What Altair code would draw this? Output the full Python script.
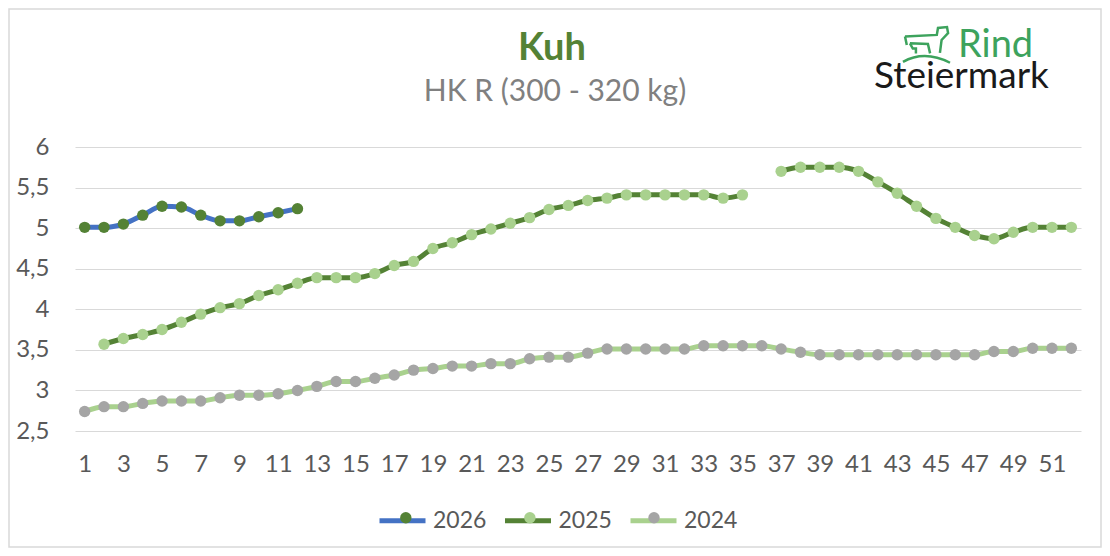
import altair as alt
import pandas as pd

FONT = "Lato"

weeks = list(range(1, 53))
years = ["2026", "2025", "2024"]
year_nums = [2026, 2025, 2024]

v2026 = [5.01, 5.01, 5.05, 5.16, 5.27, 5.26, 5.16, 5.09, 5.09, 5.14, 5.19, 5.24]
v2025 = [None, 3.57, 3.64, 3.69, 3.75, 3.84, 3.94, 4.02, 4.07, 4.17, 4.24, 4.32,
         4.39, 4.39, 4.39, 4.44, 4.54, 4.59, 4.75, 4.82, 4.92, 4.99, 5.06, 5.13,
         5.23, 5.28, 5.34, 5.37, 5.41, 5.41, 5.41, 5.41, 5.41, 5.37, 5.41, None,
         5.70, 5.75, 5.75, 5.75, 5.70, 5.57, 5.43, 5.27, 5.12, 5.01, 4.91, 4.87,
         4.95, 5.01, 5.01, 5.01]
v2024 = [2.74, 2.80, 2.80, 2.84, 2.87, 2.87, 2.87, 2.91, 2.94, 2.94, 2.96, 3.00,
         3.05, 3.11, 3.11, 3.15, 3.19, 3.25, 3.27, 3.30, 3.30, 3.33, 3.33, 3.39,
         3.41, 3.41, 3.46, 3.51, 3.51, 3.51, 3.51, 3.51, 3.55, 3.55, 3.55, 3.55,
         3.51, 3.47, 3.44, 3.44, 3.44, 3.44, 3.44, 3.44, 3.44, 3.44, 3.44, 3.48,
         3.48, 3.52, 3.52, 3.52]

x_labels = list(range(1, 52, 2))
y_ticks = [2.5, 3, 3.5, 4, 4.5, 5, 5.5, 6]

line_colors = ["#4472C4", "#548235", "#A9D18E"]
marker_colors = ["#548235", "#A9D18E", "#A5A5A5"]

title_text = "Kuh"
subtitle_text = "HK R (300 - 320 kg)"
logo_top = "Rind"
logo_bottom = "Steiermark"

# simple outline icon of the logo (cow with calf above a hill), unit box [-1, 1]
COW_ICON = ("M -0.875 -0.35 L 0.45 -0.42 L 0.5 -0.71 L 0.875 -0.75 L 0.92 -0.5 "
            "L 0.65 -0.21 L 0.58 0.33 "
            "M -0.875 -0.35 L -0.8 0.0 "
            "M -0.67 -0.07 L 0.08 -0.04 L 0.17 0.35 "
            "M -0.67 -0.07 L -0.55 0.15 L -0.42 0.15 L -0.42 0.35 "
            "M -0.96 0.7 Q -0.05 0.2 1.0 0.74")

rows = []
for yname, vals in zip(years, [v2026, v2025, v2024]):
    seg = 0
    for w, v in zip(weeks, vals):
        if v is None:
            seg += 1
            continue
        rows.append({"year": yname, "yr": int(yname), "week": w, "value": v,
                     "seg": f"{yname}-{seg}"})
df = pd.DataFrame(rows)

W, H = 1006, 284
PAD = {"left": 67, "top": 139, "right": 21, "bottom": 117}
TXT = "#595959"

x_enc = alt.X("week:O",
              scale=alt.Scale(type="point", padding=0.5, domain=weeks),
              axis=alt.Axis(values=x_labels, title=None, labelAngle=0, ticks=False,
                            domain=False, labelFontSize=24, labelFont=FONT,
                            labelColor=TXT, labelPadding=21, grid=False))
y_enc = alt.Y("value:Q",
              scale=alt.Scale(domain=[2.5, 6], nice=False, zero=False),
              axis=alt.Axis(values=y_ticks, title=None, ticks=False, domain=False,
                            labelExpr="replace(toString(datum.value), '.', ',')",
                            labelFontSize=24, labelFont=FONT, labelColor=TXT,
                            labelPadding=26, gridColor="#D9D9D9", gridWidth=1))

lines = alt.Chart(df).mark_line(strokeWidth=5, interpolate="monotone").encode(
    x=x_enc, y=y_enc,
    color=alt.Color("year:N", scale=alt.Scale(domain=years, range=line_colors),
                    legend=alt.Legend(orient="none", legendX=302, legendY=348,
                                      direction="horizontal", title=None,
                                      symbolType="stroke", symbolSize=2116,
                                      symbolStrokeWidth=5, labelFontSize=23,
                                      labelFont=FONT, labelColor=TXT,
                                      labelOffset=5, columnPadding=7.5, padding=0)),
    detail="seg:N",
)

points = alt.Chart(df).mark_point(filled=True, size=130, opacity=1, strokeWidth=0).encode(
    x=x_enc, y=y_enc,
    fill=alt.Fill("yr:N", scale=alt.Scale(domain=year_nums, range=marker_colors),
                  legend=alt.Legend(orient="none", legendX=302 + 17.3, legendY=359,
                                    direction="horizontal", title=None,
                                    symbolType="circle", symbolSize=130,
                                    symbolStrokeWidth=0, labelFontSize=23,
                                    labelFont=FONT, labelOpacity=0,
                                    labelOffset=5, columnPadding=7.5 + 34.6,
                                    padding=0)),
)

one = pd.DataFrame({"t": [title_text], "s": [subtitle_text],
                    "r": [logo_top], "m": [logo_bottom]})

title = alt.Chart(one).mark_text(font=FONT, fontSize=38, fontWeight="bold",
                                 color="#548235", align="center",
                                 baseline="alphabetic").encode(
    text="t:N", x=alt.value(477), y=alt.value(-87))
subtitle = alt.Chart(one).mark_text(font=FONT, fontSize=30, color="#808080",
                                    align="center", baseline="alphabetic").encode(
    text="s:N", x=alt.value(480), y=alt.value(-46))
logo1 = alt.Chart(one).mark_text(font=FONT, fontSize=38, color="#3DA35D",
                                 align="left", baseline="alphabetic").encode(
    text="r:N", x=alt.value(883), y=alt.value(-90))
logo2 = alt.Chart(one).mark_text(font=FONT, fontSize=37, color="#1A1A1A",
                                 align="left", baseline="alphabetic").encode(
    text="m:N", x=alt.value(799), y=alt.value(-59))
icon = alt.Chart(one).mark_point(shape=COW_ICON, filled=False, stroke="#3DA35D",
                                 strokeWidth=2.5, size=2304, opacity=1).encode(
    x=alt.value(851), y=alt.value(-102))

border = alt.Chart(one).mark_rect(fill="transparent", stroke="#D9D9D9",
                                  strokeWidth=1.5).encode(
    x=alt.value(-PAD["left"] + 1), x2=alt.value(W + PAD["right"] - 1),
    y=alt.value(-PAD["top"] + 1), y2=alt.value(H + PAD["bottom"] - 1))

chart = alt.layer(border, lines, points, title, subtitle, logo1, logo2, icon).resolve_legend(
    color="independent", fill="independent"
).properties(
    width=W, height=H, padding=PAD, autosize=alt.AutoSizeParams(type="none"),
    background="white",
).configure_view(stroke=None)

chart.save("out.html", embed_options={"renderer": "svg", "actions": False})
